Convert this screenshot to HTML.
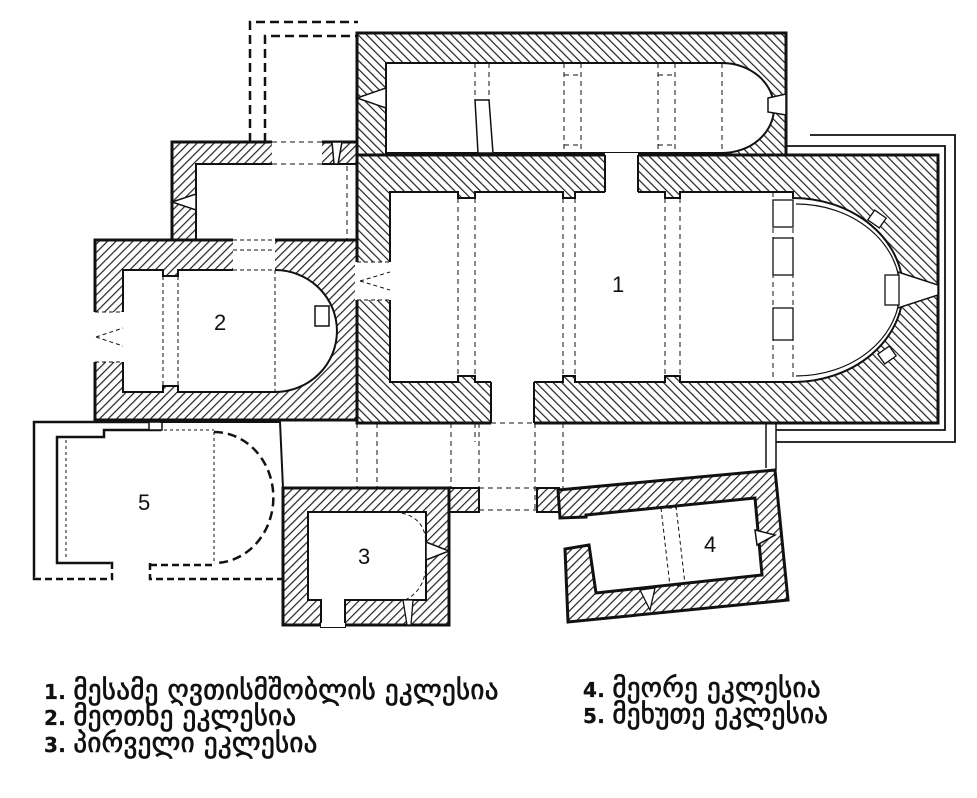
<!DOCTYPE html>
<html><head><meta charset="utf-8"><style>
html,body{margin:0;padding:0;background:#fff;}
svg{display:block;}
.t{font-family:"DejaVu Sans","Liberation Sans",sans-serif;font-size:27px;fill:#111;stroke:#111;stroke-width:0.7px;letter-spacing:0.3px;}
.d{font-size:20px;font-weight:bold;stroke-width:0.3px;}
.n{font-family:"Liberation Sans",sans-serif;font-size:22px;fill:#111;}
</style></head><body>
<svg width="977" height="798" viewBox="0 0 977 798" xmlns="http://www.w3.org/2000/svg">
<defs>
<pattern id="hb" width="6" height="6" patternUnits="userSpaceOnUse" patternTransform="rotate(-45)">
<rect width="6" height="6" fill="#fff"/><line x1="0" y1="0" x2="0" y2="6" stroke="#222" stroke-width="2.4"/></pattern>
<pattern id="hf" width="6" height="6" patternUnits="userSpaceOnUse" patternTransform="rotate(45)">
<rect width="6" height="6" fill="#fff"/><line x1="0" y1="0" x2="0" y2="6" stroke="#222" stroke-width="2.4"/></pattern>
</defs>
<g fill="none" stroke="#111">
<path d="M250,142 V22 H358" stroke-width="2.5" stroke-dasharray="9,5"/>
<path d="M265,142 V36 H358" stroke-width="2.5" stroke-dasharray="9,5"/>

<path d="M112,563 H57 V437 H104 V430 H160 V422 H34 V579 H112 Z" stroke-width="2.5"/>
<path d="M34,579 H112 V563" stroke="#fff" stroke-width="3"/>
<path d="M34,579 H112 V563" stroke-width="2.5" stroke-dasharray="7,4"/>
<path d="M150,563 V579 H283" stroke-width="2.5" stroke-dasharray="7,4"/>
<path d="M150,565 H214" stroke-width="2.5" stroke-dasharray="7,4"/>
<path d="M214,432 A58,64 0 0 1 214,563" stroke-width="2.5" stroke-dasharray="9,5"/>
<path d="M104,430 H214 M214,432 V563 M66,440 V560" stroke-width="1" stroke-dasharray="3,3"/>
<rect x="149" y="422" width="13" height="8" stroke-width="1.5" fill="#fff"/>
<path d="M160,422 H280 L283,488" stroke-width="2"/>

<path d="M357,423 V488 M377,423 V488 M451,423 V488 M479,423 V510 M535,423 V510 M563,423 V488" stroke-width="1" stroke-dasharray="5,4"/>
<path d="M479,488 H537 M479,510 H537" stroke-width="1" stroke-dasharray="5,4"/>
<path d="M766,423 V468 M776,423 V470" stroke-width="1.5"/>

<rect x="172" y="142" width="185" height="98" fill="url(#hf)" stroke-width="3"/>
<rect x="196" y="164" width="161" height="76" fill="#fff" stroke-width="2"/>
<rect x="272" y="140" width="50" height="25" fill="#fff" stroke="none"/>
<path d="M272,142 H322 M272,164 H322 M347,166 V240" stroke-width="1" stroke-dasharray="5,4"/>
<polygon points="172,202 196,194 196,210" fill="#fff" stroke-width="1.5"/>
<polygon points="332,142 342,142 338,164 334,164" fill="#fff" stroke-width="1.5"/>

<rect x="95" y="240" width="262" height="180" fill="url(#hf)" stroke-width="3"/>
<path d="M123,270 H163 V276 H178 V270 H275 A62,61 0 0 1 275,392 H178 V386 H163 V392 H123 Z" fill="#fff" stroke-width="2"/>
<rect x="233" y="238" width="42" height="33" fill="#fff" stroke="none"/>
<path d="M233,240 H275 M233,250 H275 M233,270 H275 M275,270 V392 M163,276 V386 M178,276 V386" stroke-width="1" stroke-dasharray="4,3"/>
<rect x="93" y="312" width="31" height="50" fill="#fff" stroke="none"/>
<path d="M95,312 H123 M95,362 H123 M96,337 L123,328 M96,337 L123,346" stroke-width="1" stroke-dasharray="4,3"/>
<rect x="315" y="306" width="14" height="20" fill="#fff" stroke-width="1.5"/>
<text class="n" x="214" y="330" stroke="none" fill="#111">2</text>

<rect x="357" y="33" width="429" height="122" fill="url(#hb)" stroke-width="3"/>
<path d="M386,63 H722 A52,45 0 0 1 722,153 H386 Z" fill="#fff" stroke-width="2"/>
<path d="M475,63 V100 M489,63 V100 M564,63 V150 M581,63 V150 M658,63 V150 M675,63 V150 M722,63 V153 M564,75 H581 M564,145 H581 M658,75 H675 M658,145 H675" stroke-width="1" stroke-dasharray="5,4"/>
<polygon points="475,100 489,100 493,153 478,153" fill="#fff" stroke-width="1.5"/>
<polygon points="357,98 386,88 386,108" fill="#fff" stroke-width="1.5"/>
<polygon points="768,98 786,94 786,115 768,112" fill="#fff" stroke-width="1.5"/>

<path d="M810,135 H955 V442 H776" stroke-width="1.8"/>
<path d="M786,146 H945 V430 H776" stroke-width="1.8"/>

<rect x="357" y="155" width="581" height="268" fill="url(#hb)" stroke-width="3"/>
<path d="M390,192 H458 V198 H475 V192 H563 V198 H575 V192 H665 V198 H680 V192 H793 V198 A110,92 0 0 1 793,382 H680 V376 H665 V382 H575 V376 H563 V382 H475 V376 H458 V382 H390 Z" fill="#fff" stroke-width="2"/>
<path d="M796,204 A104,86 0 0 1 796,376" stroke-width="1.2"/>
<rect x="605" y="153" width="33" height="40" fill="#fff" stroke="none"/>
<path d="M605,155 V192 M638,155 V192" stroke-width="2"/>
<rect x="491" y="381" width="43" height="44" fill="#fff" stroke="none"/>
<path d="M491,382 V423 M534,382 V423" stroke-width="2"/>
<path d="M458,198 V376 M475,198 V376 M563,198 V376 M575,198 V376 M665,198 V376 M680,198 V376 M773,192 V382 M793,192 V382 M475,423 V442 M491,423 H534" stroke-width="1" stroke-dasharray="5,4"/>
<rect x="773" y="200" width="20" height="27" fill="#fff" stroke-width="1.3"/>
<rect x="773" y="238" width="20" height="37" fill="#fff" stroke-width="1.3"/>
<rect x="773" y="308" width="20" height="32" fill="#fff" stroke-width="1.3"/>
<rect x="355" y="262" width="36" height="38" fill="#fff" stroke="none"/>
<path d="M357,262 H390 M357,300 H390 M360,281 L390,272 M360,281 L390,290" stroke-width="1" stroke-dasharray="4,3"/>
<polygon points="898,272 938,285 938,295 898,308" fill="#fff" stroke-width="1.5"/>
<rect x="885" y="275" width="14" height="30" fill="#fff" stroke-width="1.3"/>
<rect x="870" y="213" width="14" height="12" fill="#fff" stroke-width="1.3" transform="rotate(35 877 219)"/>
<rect x="880" y="349" width="14" height="12" fill="#fff" stroke-width="1.3" transform="rotate(-35 887 355)"/>
<text class="n" x="612" y="292" stroke="none" fill="#111">1</text>

<rect x="449" y="488" width="30" height="24" fill="url(#hf)" stroke-width="2"/>
<rect x="537" y="488" width="22" height="24" fill="url(#hf)" stroke-width="2"/>

<rect x="283" y="488" width="166" height="137" fill="url(#hf)" stroke-width="3"/>
<path d="M308,512 H426 V600 H345 V627 H321 V600 H308 Z" fill="#fff" stroke-width="2"/>
<path d="M321,625 H345" stroke="#fff" stroke-width="4"/>
<polygon points="426,542 449,551 426,560" fill="#fff" stroke-width="1.5"/>
<polygon points="403,600 413,600 411,625 407,625" fill="#fff" stroke-width="1.3"/>
<path d="M395,512 Q426,515 426,545 M426,562 Q426,590 405,600" stroke-width="1" stroke-dasharray="4,3"/>
<text class="n" x="358" y="564" stroke="none" fill="#111">3</text>

<path d="M558,490 L775,470 L788,600 L568,622 L565,549 L589,545 L596,593 L762,575 L755,498 L586,515 L586,517 L560,518 Z" fill="url(#hf)" stroke-width="3"/>
<polygon points="755,530 775,535 757,545" fill="#fff" stroke-width="1.5"/>
<polygon points="640,590 655,588 650,610" fill="#fff" stroke-width="1.3"/>
<path d="M661,508 L670,586 M676,506 L685,584 M661,508 H676 M670,586 H685" stroke-width="1" stroke-dasharray="4,3"/>
<text class="n" x="704" y="552" stroke="none" fill="#111">4</text>
<text class="n" x="138" y="510" stroke="none" fill="#111">5</text>
</g>

<text class="t" x="44" y="699"><tspan class="d">1. </tspan>მესამე ღვთისმშობლის ეკლესია</text>
<text class="t" x="44" y="725"><tspan class="d">2. </tspan>მეოთხე ეკლესია</text>
<text class="t" x="44" y="752"><tspan class="d">3. </tspan>პირველი ეკლესია</text>
<text class="t" x="583" y="697"><tspan class="d">4. </tspan>მეორე ეკლესია</text>
<text class="t" x="583" y="723"><tspan class="d">5. </tspan>მეხუთე ეკლესია</text>
</svg>
</body></html>
